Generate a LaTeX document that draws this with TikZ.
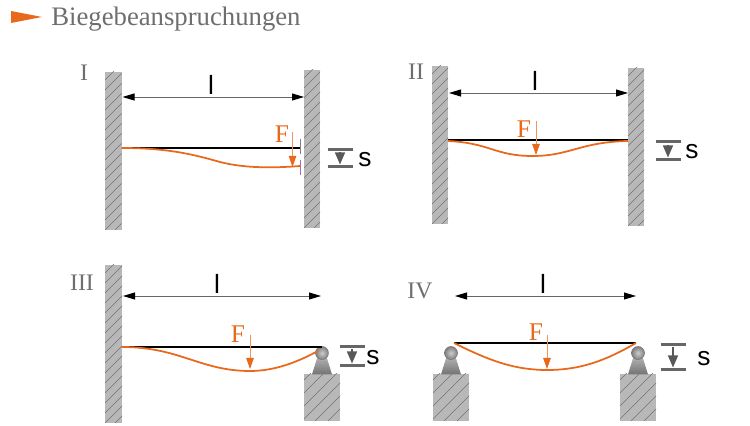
\documentclass[tikz,border=0pt]{standalone}
\usepackage{fontspec}
\setmainfont{Liberation Serif}
\newfontfamily\labelfont{Liberation Sans}
\usetikzlibrary{arrows.meta}
\definecolor{bendorange}{HTML}{E8681C}
\definecolor{titlegray}{HTML}{6E6E6E}
\definecolor{wallgray}{HTML}{B8B8B8}
\tikzset{
  beam/.style={line width=1.1pt,color=black},
  bent/.style={line width=1pt,color=bendorange},
  span/.style={line width=.5pt,color=black!60,{Triangle[length=.24cm,width=.14cm,color=black]}-{Triangle[length=.24cm,width=.14cm,color=black]}},
  load/.style={line width=.5pt,color=bendorange!70!white,-{Triangle[length=.22cm,width=.15cm,color=bendorange]}},
  gap/.style={line width=.7pt,color=black!65,-{Triangle[length=.24cm,width=.2cm]}},
  gapbar/.style={line width=1.7pt,color=black!60},
  forcelabel/.style={font=\fontsize{14.5pt}{16pt}\selectfont,text=bendorange},
  romanlabel/.style={font=\fontsize{13.5pt}{16pt}\selectfont,text=titlegray},
  lengthlabel/.style={font=\labelfont\fontsize{15pt}{16pt}\selectfont},
  gaplabel/.style={font=\labelfont\fontsize{15pt}{16pt}\selectfont}
}
\begin{document}
\begin{tikzpicture}
\useasboundingbox (0, 0) rectangle (15, 8.52);

\newcommand\hatched[5]{%
\fill [color=wallgray] (#1, #2) rectangle (#3, #4);%
\begin{scope}
\clip (#1, #2) rectangle (#3, #4);
\foreach \i in {0,#5,...,5} {\draw [line width=.22pt,color=black!55] (#1, #2+\i-1) -- ++(1.5, 1.5);}
\end{scope}%
}
\newcommand\support[2]{%
\shade [top color=black!25,bottom color=black!55] (#1-.2, #2) -- (#1-.07, #2+.42) -- (#1+.07, #2+.42) -- (#1+.2, #2) -- cycle;%
\shade [inner color=black!20,outer color=black!50] (#1, #2+.43) circle (.13);%
\draw [line width=.3pt,color=black!55] (#1, #2+.43) circle (.13);%
}
\newcommand\gapmark[5]{%
\coordinate (#1a) at (#2-.25, #3);%
\coordinate (#1b) at (#2+.25, #3);%
\coordinate (#1c) at (#2-.25, #4);%
\coordinate (#1d) at (#2+.25, #4);%
\coordinate (#1e) at (#2, #3-.06);%
\coordinate (#1f) at (#2, #4+.05);%
\draw [gapbar] (#1a) -- (#1b);%
\draw [gapbar] (#1c) -- (#1d);%
\draw [gap] (#1e) -- (#1f);%
\node (#1s) at (#2+#5, #3/2+#4/2-.02) [gaplabel] {s};%
}

% title
\fill [color=bendorange] (.22, 8.3) -- (.84, 8.18) -- (.22, 8.06) -- cycle;
\node (title) at (1.02, 8.13) [anchor=west,inner sep=0pt,text=titlegray,font=\fontsize{15.2pt}{18pt}\selectfont] {Biegebeanspruchungen};

% I
\node (numI) at (1.68, 7.06) [romanlabel] {I};
\hatched{2.1}{3.92}{2.43}{7.08}{.2}
\hatched{6.08}{3.96}{6.4}{7.12}{.2}
\coordinate (spanIa) at (2.45, 6.58);
\coordinate (spanIb) at (6.08, 6.58);
\draw [span] (spanIa) -- (spanIb);
\node (lenI) at (4.22, 6.82) [lengthlabel] {l};
\coordinate (beamIa) at (2.43, 5.56);
\coordinate (beamIb) at (6, 5.56);
\draw [beam] (beamIa) -- (beamIb);
\coordinate (endIb) at (6, 5.2);
\draw [bent] (beamIa) .. controls (3.4, 5.56) and (3.9, 5.42) .. (4.4, 5.28) .. controls (4.9, 5.15) and (5.5, 5.16) .. (endIb);
\draw [line width=.5pt,color=black!50] (6, 5.74) -- (6, 5.44);
\draw [line width=.5pt,color=violet!60] (6.01, 5.32) -- (6.01, 5.02);
\node (forceI) at (5.64, 5.84) [forcelabel] {F};
\coordinate (loadIa) at (5.85, 5.88);
\coordinate (loadIb) at (5.85, 5.18);
\draw [load] (loadIa) -- (loadIb);
\gapmark{gapI}{6.8}{5.53}{5.18}{.5}

% II
\node (numII) at (8.32, 7.08) [romanlabel] {II};
\hatched{8.64}{4.04}{8.96}{7.2}{.2}
\hatched{12.56}{4}{12.88}{7.16}{.2}
\coordinate (spanIIa) at (8.98, 6.66);
\coordinate (spanIIb) at (12.56, 6.66);
\draw [span] (spanIIa) -- (spanIIb);
\node (lenII) at (10.7, 6.9) [lengthlabel] {l};
\coordinate (beamIIa) at (8.96, 5.72);
\coordinate (beamIIb) at (12.56, 5.72);
\draw [beam] (beamIIa) -- (beamIIb);
\draw [bent] (8.96, 5.7) .. controls (9.8, 5.66) and (9.9, 5.4) .. (10.65, 5.4) .. controls (11.4, 5.4) and (11.6, 5.68) .. (12.56, 5.7);
\node (forceII) at (10.48, 5.94) [forcelabel] {F};
\coordinate (loadIIa) at (10.72, 6.1);
\coordinate (loadIIb) at (10.72, 5.42);
\draw [load] (loadIIa) -- (loadIIb);
\gapmark{gapII}{13.36}{5.68}{5.32}{.48}

% III
\node (numIII) at (1.64, 2.86) [romanlabel] {III};
\hatched{2.1}{.06}{2.44}{3.22}{.2}
\hatched{6.08}{.1}{6.8}{1.04}{.26}
\support{6.44}{1.03}
\coordinate (spanIIIa) at (2.46, 2.6);
\coordinate (spanIIIb) at (6.42, 2.6);
\draw [span] (spanIIIa) -- (spanIIIb);
\node (lenIII) at (4.34, 2.84) [lengthlabel] {l};
\coordinate (beamIIIa) at (2.44, 1.58);
\coordinate (beamIIIb) at (6.44, 1.58);
\draw [beam] (beamIIIa) -- (beamIIIb);
\coordinate (endIIIb) at (6.36, 1.5);
\draw [bent] (beamIIIa) .. controls (3.6, 1.58) and (4, 1.1) .. (5, 1.1) .. controls (5.5, 1.1) and (5.95, 1.28) .. (endIIIb);
\node (forceIII) at (4.76, 1.84) [forcelabel] {F};
\coordinate (loadIIIa) at (5, 1.82);
\coordinate (loadIIIb) at (5, 1.14);
\draw [load] (loadIIIa) -- (loadIIIb);
\gapmark{gapIII}{7.04}{1.59}{1.2}{.42}

% IV
\node (numIV) at (8.4, 2.7) [romanlabel] {IV};
\hatched{8.66}{.1}{9.38}{1.04}{.26}
\hatched{12.4}{.1}{13.12}{1.04}{.26}
\support{9.02}{1.03}
\support{12.76}{1.03}
\coordinate (spanIVa) at (9.1, 2.6);
\coordinate (spanIVb) at (12.72, 2.6);
\draw [span] (spanIVa) -- (spanIVb);
\node (lenIV) at (10.86, 2.84) [lengthlabel] {l};
\coordinate (beamIVa) at (9.08, 1.66);
\coordinate (beamIVb) at (12.72, 1.66);
\draw [beam] (beamIVa) -- (beamIVb);
\draw [bent] (beamIVa) .. controls (9.8, 1.3) and (10.3, 1.12) .. (10.94, 1.12) .. controls (11.6, 1.12) and (12.1, 1.3) .. (beamIVb);
\node (forceIV) at (10.72, 1.88) [forcelabel] {F};
\coordinate (loadIVa) at (10.94, 1.82);
\coordinate (loadIVb) at (10.94, 1.14);
\draw [load] (loadIVa) -- (loadIVb);
\gapmark{gapIV}{13.46}{1.63}{1.12}{.62}
\end{tikzpicture}
\end{document}
